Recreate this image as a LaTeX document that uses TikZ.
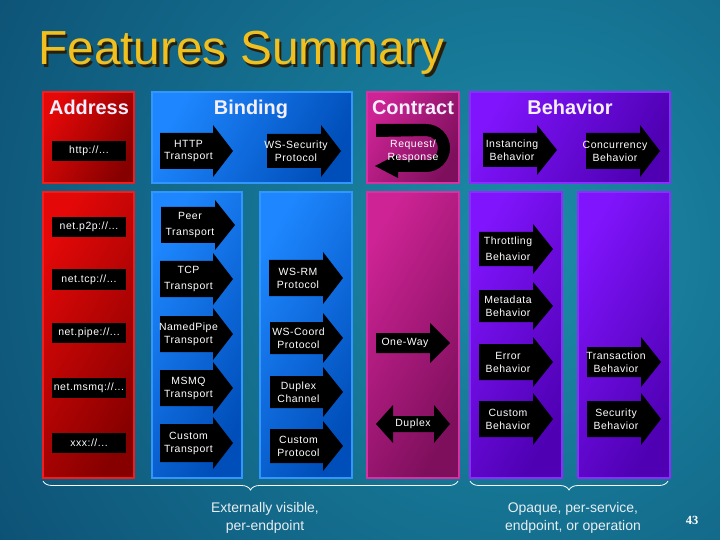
\documentclass[tikz,border=0pt]{standalone}
\usepackage{fontspec}
\setmainfont{Liberation Sans}
\newfontfamily\arrfont[LetterSpace=5]{Liberation Sans}
\newfontfamily\numfont{Liberation Serif}
\usetikzlibrary{decorations.pathreplacing}
\definecolor{bgdark}{RGB}{9,66,104}
\definecolor{bglight}{RGB}{28,140,168}
\definecolor{titlecol}{RGB}{240,192,32}
\definecolor{titleshad}{RGB}{40,30,10}
\definecolor{redL}{RGB}{228,8,8}
\definecolor{redD}{RGB}{135,0,0}
\definecolor{redE}{RGB}{240,30,30}
\definecolor{blueL}{RGB}{30,135,255}
\definecolor{blueD}{RGB}{0,78,185}
\definecolor{blueE}{RGB}{50,150,255}
\definecolor{pinkL}{RGB}{205,35,148}
\definecolor{pinkD}{RGB}{125,15,92}
\definecolor{pinkE}{RGB}{215,50,165}
\definecolor{purL}{RGB}{128,20,252}
\definecolor{purD}{RGB}{78,0,178}
\definecolor{purE}{RGB}{140,45,255}
\definecolor{hdcol}{RGB}{245,240,255}
\definecolor{lowtext}{RGB}{232,238,242}
\tikzset{
  panel/.style n args={3}{left color=#1, right color=#2, shading angle=60, draw=#3, line width=1.2bp},
  redbox/.style={panel={redL}{redD}{redE}},
  bluebox/.style={panel={blueL}{blueD}{blueE}},
  pinkbox/.style={panel={pinkL}{pinkD}{pinkE}},
  purbox/.style={panel={purL}{purD}{purE}},
  hdr/.style={text=hdcol, font=\fontsize{20}{24}\selectfont\bfseries, anchor=base, inner sep=0pt},
  albl/.style={text=white, font=\arrfont\fontsize{10.5}{13}\selectfont, align=center, inner sep=0pt},
  addr/.style={fill=black, text=white, font=\arrfont\fontsize{10.5}{13}\selectfont, minimum width=74bp, minimum height=20bp, inner sep=0pt},
  note/.style={text=lowtext, font=\fontsize{14}{18}\selectfont, align=center, inner sep=0pt},
  brc/.style={draw=white, line width=0.8bp, decorate, decoration={brace, amplitude=9bp, mirror}}
}
\newcommand\Arr[8]{%
  \pgfmathsetmacro\hx{#3-#7}%
  \pgfmathsetmacro\tx{(#2+#3-#7)/2+2}%
  \fill[black] (#2,#4-#5) -- (\hx,#4-#5) -- (\hx,#4-#6) -- (#3,#4) -- (\hx,#4+#6) -- (\hx,#4+#5) -- (#2,#4+#5) -- cycle;
  \node[albl] (#1) at (\tx,#4) {#8};}
\begin{document}
\begin{tikzpicture}[x=1bp,y=-1bp]
\useasboundingbox (0,0) rectangle (720,540);
% background
\begin{scope}
\clip (0,0) rectangle (720,540);
\shade[inner color=bglight, outer color=bgdark] (520-760,250-760) rectangle (520+760,250+760);
\end{scope}
% title with shadow
\node[anchor=base west, inner sep=0pt, text=titlecol, font=\fontsize{48}{56}\selectfont] (title) at (38,65)
  {\makebox[0pt][l]{\hspace{2.5bp}\raisebox{-2.5bp}{\textcolor{titleshad}{Features Summary}}}Features Summary};
% panels
\shadedraw[redbox] (43,92) rectangle (134,183);
\shadedraw[redbox] (43,192) rectangle (134,478);
\shadedraw[bluebox] (152,92) rectangle (352,183);
\shadedraw[bluebox] (152,192) rectangle (242,478);
\shadedraw[bluebox] (260,192) rectangle (352,478);
\shadedraw[pinkbox] (367,92) rectangle (459,183);
\shadedraw[pinkbox] (367,192) rectangle (459,478);
\shadedraw[purbox] (470,92) rectangle (670,183);
\shadedraw[purbox] (470,192) rectangle (562,478);
\shadedraw[purbox] (578,192) rectangle (670,478);
% headers
\node[hdr] (hAddress) at (89,115) {Address};
\node[hdr] (hBinding) at (251,115) {Binding};
\node[hdr] (hContract) at (413,115) {Contract};
\node[hdr] (hBehavior) at (570,115) {Behavior};
% addresses
\node[addr] (a1) at (89,151) {http://...};
\node[addr] (a2) at (89,227) {net.p2p://...};
\node[addr] (a3) at (89,279.5) {net.tcp://...};
\node[addr] (a4) at (89,333) {net.pipe://...};
\node[addr] (a5) at (89,388) {net.msmq://...};
\node[addr] (a6) at (89,443) {xxx://...};
% binding arrows
\Arr{b1}{160}{233}{151}{18}{26}{20}{HTTP\\Transport}
\Arr{b2}{267}{341}{151}{17}{26}{20}{WS-Security\\Protocol}
\Arr{b3}{161}{235}{225}{18}{25}{20}{Peer\\[3bp]Transport}
\Arr{b4}{160}{233}{279}{18}{26}{20}{TCP\\[3bp]Transport}
\Arr{b5}{269}{343}{278}{18}{26}{20}{WS-RM\\Protocol}
\Arr{b6}{160}{233}{334}{18}{26}{20}{NamedPipe\\Transport}
\Arr{b7}{270}{343}{338}{16}{25}{20}{WS-Coord\\Protocol}
\Arr{b8}{160}{233}{388}{18}{26}{20}{MSMQ\\Transport}
\Arr{b9}{270}{343}{392}{16}{25}{20}{Duplex\\Channel}
\Arr{b10}{160}{233}{443}{19}{26}{20}{Custom\\Transport}
\Arr{b11}{270}{343}{446}{17}{25}{20}{Custom\\Protocol}
% contract
\fill[black] (376,124) -- (426,124) arc[start angle=-90, end angle=90, radius=24]
  -- (398,172) -- (398,178) -- (375,166) -- (398,154) -- (398,160) -- (426,160)
  arc[start angle=90, end angle=-90, radius=12] -- (376,137) -- cycle;
\node[albl] (c1) at (413,151) {Request/\\Response};
\Arr{c2}{376}{450}{343}{10}{20}{20}{One-Way}
\fill[black] (376,424) -- (393,405) -- (393,416) -- (434,416) -- (434,405) -- (450,424)
  -- (434,443) -- (434,432) -- (393,432) -- (393,443) -- cycle;
\node[albl] (c3) at (413,424) {Duplex};
% behavior
\Arr{d1}{483}{557}{150}{17}{25}{20}{Instancing\\Behavior}
\Arr{d2}{586}{660}{151}{18}{26}{20}{Concurrency\\Behavior}
\Arr{d3}{479}{553}{249}{17}{25}{20}{Throttling\\[3bp]Behavior}
\Arr{d4}{479}{553}{306}{16}{24}{20}{Metadata\\Behavior}
\Arr{d5}{479}{553}{362}{18}{25}{20}{Error\\Behavior}
\Arr{d6}{479}{553}{419}{18}{26}{20}{Custom\\Behavior}
\Arr{d7}{587}{661}{362}{15}{25}{20}{Transaction\\Behavior}
\Arr{d8}{587}{661}{419}{18}{26}{20}{Security\\Behavior}
% braces
\coordinate (br1a) at (43,481);
\coordinate (br1b) at (458,481);
\coordinate (br2a) at (470,481);
\coordinate (br2b) at (668,481);
\draw[brc] (br1a) -- (br1b);
\draw[brc] (br2a) -- (br2b);
\node[note] (n1) at (265,518) {Externally visible,\\per-endpoint};
\node[note] (n2) at (573,518) {Opaque, per-service,\\endpoint, or operation};
\node[inner sep=0pt, anchor=base, text=white, font=\numfont\fontsize{12.5}{14}\selectfont\bfseries] (pg) at (692,524) {43};
\end{tikzpicture}
\end{document}
